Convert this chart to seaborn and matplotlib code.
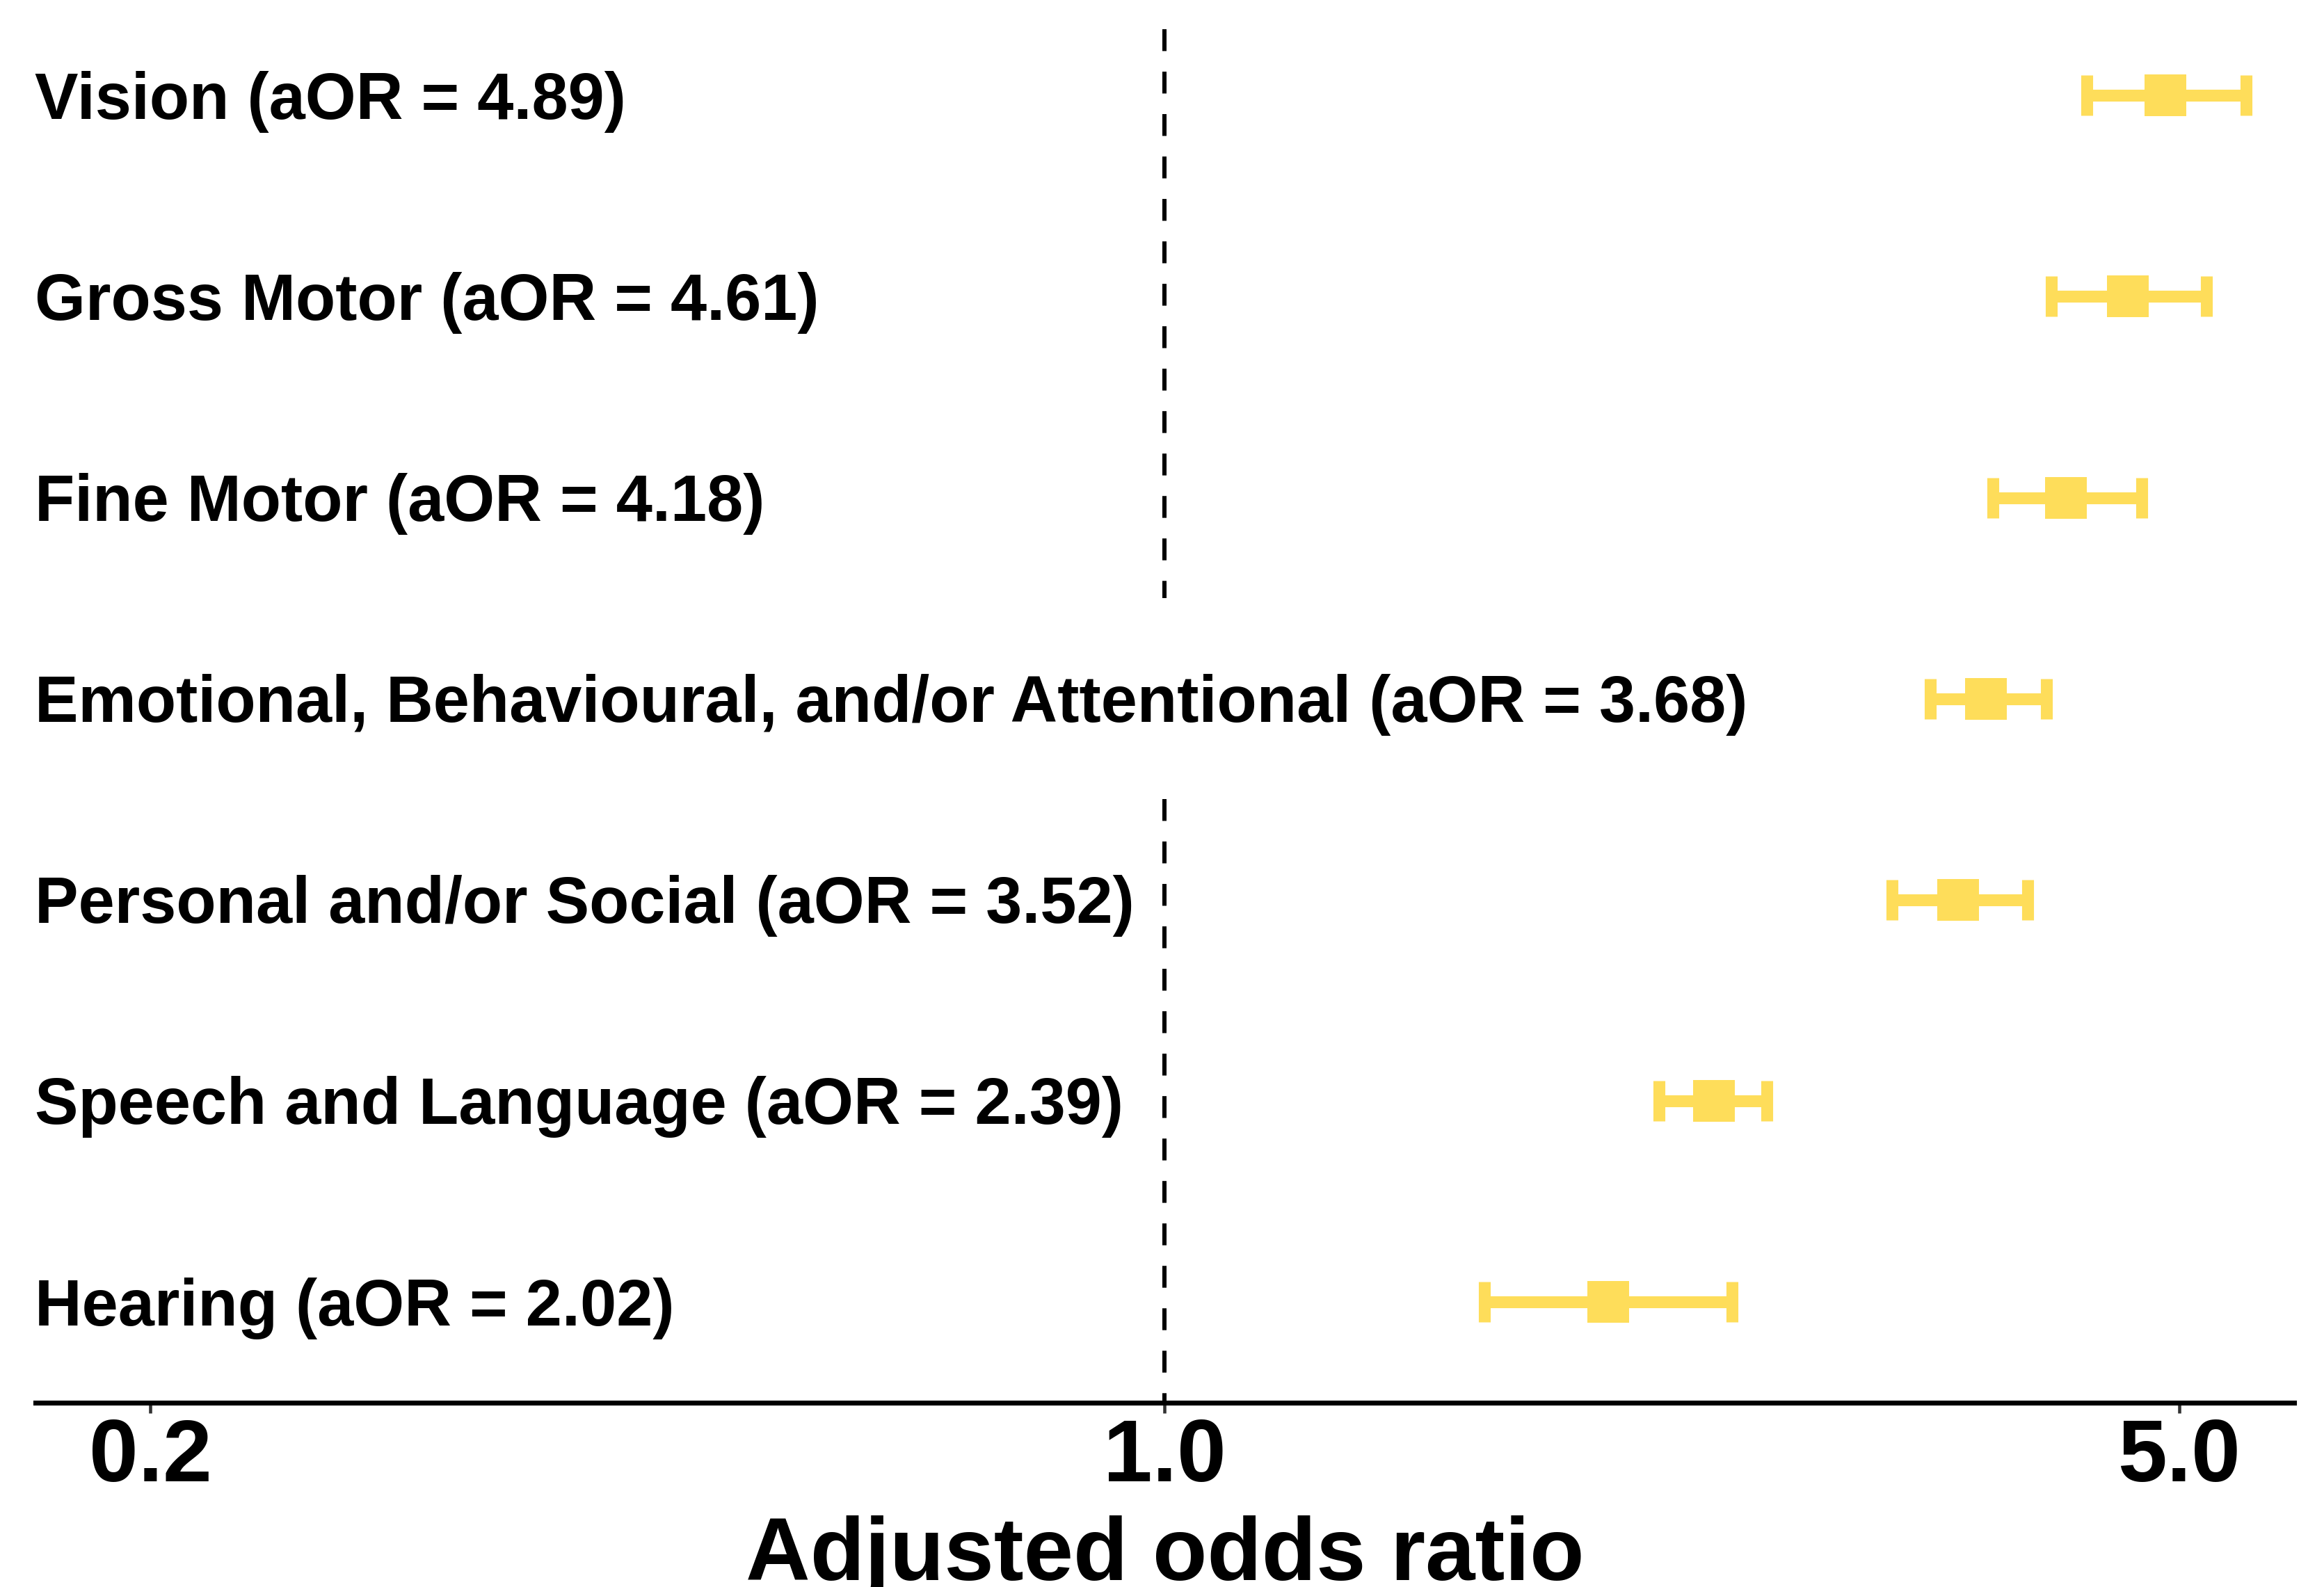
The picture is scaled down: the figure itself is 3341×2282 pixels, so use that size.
import numpy as np
import pandas as pd
import seaborn as sns
import matplotlib.pyplot as plt
import matplotlib.transforms as mtransforms
from matplotlib.ticker import NullLocator

# adjusted odds ratios with 95% CI, bottom row first
domains = ['Hearing', 'Speech and Language', 'Personal and/or Social',
           'Emotional, Behavioural, and/or Attentional', 'Fine Motor',
           'Gross Motor', 'Vision']
aor = [2.02, 2.39, 3.52, 3.68, 4.18, 4.61, 4.89]
ci_low = [1.66, 2.19, 3.17, 3.37, 3.72, 4.08, 4.32]
ci_high = [2.46, 2.60, 3.93, 4.05, 4.71, 5.22, 5.56]
x_ticks = [0.2, 1.0, 5.0]

df = pd.DataFrame({'domain': domains, 'aor': aor, 'low': ci_low, 'high': ci_high})
df['row'] = np.arange(len(df))
df['label'] = [f'{d} (aOR = {v:.2f})' for d, v in zip(df['domain'], df['aor'])]

sns.set_theme(style='white')
plt.rcParams['font.family'] = ['Liberation Sans', 'DejaVu Sans']
plt.rcParams['font.weight'] = 'bold'

W, H = 3341, 2282
fig = plt.figure(figsize=(W / 300, H / 300), dpi=300)
ax = fig.add_axes([51 / W, (H - 2016.7) / H, (3298 - 51) / W, 1974.8 / H])

colour = '#FEDD5A'
ax.errorbar(df['aor'], df['row'],
            xerr=[df['aor'] - df['low'], df['high'] - df['aor']],
            fmt='none', ecolor=colour, elinewidth=4.1, capsize=7, capthick=4.1,
            zorder=3)
sns.scatterplot(data=df, x='aor', y='row', marker='s', s=14.6 ** 2,
                color=colour, linewidth=0, ax=ax, zorder=4, legend=False)

ax.set_xscale('log')
ax.set_xlim(1 / 6, 6)
ax.set_xticks(x_ticks)
ax.set_xticklabels([f'{t:.1f}' for t in x_ticks])
ax.xaxis.set_minor_locator(NullLocator())
ax.set_ylim(-0.5, 6.33)
ax.set_yticks([])
ax.set_ylabel('')

for side in ['top', 'right', 'left']:
    ax.spines[side].set_visible(False)
ax.spines['bottom'].set_color('black')
ax.spines['bottom'].set_linewidth(1.7)
ax.tick_params(axis='x', bottom=True, length=3.6, width=1.1, color='#333333',
               labelsize=30.5, labelcolor='black', pad=1.5)
for lab in ax.get_xticklabels():
    lab.set_fontweight('bold')
ax.set_xlabel('Adjusted odds ratio', fontsize=30.8, fontweight='bold',
              color='black', labelpad=5.5)

# row labels inside the panel, baseline a little below the row centre
trans = mtransforms.blended_transform_factory(ax.transAxes, ax.transData)
trans = trans + mtransforms.ScaledTranslation(-1 / 300, -33.5 / 300, fig.dpi_scale_trans)
texts = []
for _, r in df.iterrows():
    texts.append(ax.text(0, r['row'], r['label'], transform=trans, ha='left',
                         va='baseline', fontsize=22.5, fontweight='bold',
                         color='black', zorder=2))

# reference line at 1, skipped on rows whose label crosses it
fig.canvas.draw()
x_ref = ax.transData.transform((1.0, 0))[0]
free = [not (t.get_window_extent().x0 <= x_ref <= t.get_window_extent().x1)
        for t in texts]
y_lo, y_hi = ax.get_ylim()
runs = []
for i, ok in enumerate(free):
    if not ok:
        continue
    top = min(i + 0.5, y_hi)
    bot = max(i - 0.5, y_lo)
    if runs and abs(runs[-1][0] - bot) < 1e-9:
        runs[-1][0] = top
    else:
        runs.append([top, bot])
for top, bot in runs:
    ax.plot([1, 1], [top, bot], color='black', lw=1.45,
            ls=(0, (5.2, 4.9)), zorder=1)

fig.savefig('out.png', dpi=300)
